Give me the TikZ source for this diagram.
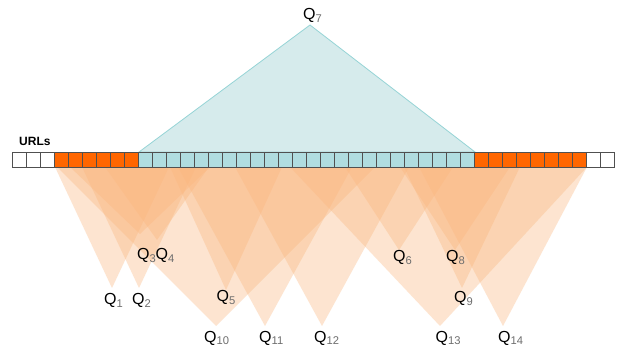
\documentclass[tikz,border=0pt]{standalone}
\usepackage{fontspec}
\setmainfont{Liberation Sans}
\definecolor{qorange}{RGB}{250,182,125}
\definecolor{cellorange}{RGB}{255,102,0}
\definecolor{cellcyan}{RGB}{176,221,224}
\definecolor{tricyan}{RGB}{214,235,236}
\definecolor{triedge}{RGB}{150,212,214}
\definecolor{cellline}{RGB}{80,80,80}
\definecolor{subgray}{RGB}{110,110,110}
\newcommand{\qlab}[1]{Q\textsubscript{\color{subgray}#1}}
\tikzset{
  qtri/.style={fill=qorange, fill opacity=0.36},
  cell/.style={draw=cellline, line width=0.7pt},
  qlabel/.style={anchor=base west, inner sep=0pt, font=\fontsize{16}{18}\selectfont},
}
\begin{document}
\begin{tikzpicture}[x=1pt,y=-1pt]
\useasboundingbox (0,0) rectangle (624,347);
\fill[white] (0,0) rectangle (624,347);
% query triangles (base left, base right, apex x, apex y)
\foreach \l/\r/\ax/\ay in {
  55/169/112/288, 82/196/139/288, 70/210/140/234, 105/209/157/240,
  57/375/216/326, 170/282/226/290, 178/352/265/326, 235/409/322/326,
  345/453/399/250, 400/510/455/250, 404/520/462/288,
  290/587/440/326, 419/587/503/326}
  \fill[qtri] (\l,167) -- (\r,167) -- (\ax,\ay) -- cycle;
% Q7 triangle
\filldraw[fill=tricyan, draw=triedge, line width=0.8pt] (139,152) -- (310,25) -- (475,152) -- cycle;
% URL cells
\foreach \i in {0,...,42}{
  \pgfmathsetmacro{\xx}{12+14*\i}
  \ifnum\i<3 \def\cc{white}\else
  \ifnum\i<9 \def\cc{cellorange}\else
  \ifnum\i<33 \def\cc{cellcyan}\else
  \ifnum\i<41 \def\cc{cellorange}\else \def\cc{white}\fi\fi\fi\fi
  \filldraw[cell, fill=\cc] (\xx,152) rectangle ++(14,15);
}
\node[anchor=base west, inner sep=0pt, font=\fontsize{12}{14}\selectfont\bfseries] (urls) at (19,146) {URLs};
% labels
\node[qlabel] (q7) at (303,20) {\qlab{7}};
\node[qlabel] (q1) at (104,305) {\qlab{1}};
\node[qlabel] (q2) at (132,305) {\qlab{2}};
\node[qlabel] (q3) at (137,260) {\qlab{3}};
\node[qlabel] (q4) at (155.5,260) {\qlab{4}};
\node[qlabel] (q5) at (216.5,302) {\qlab{5}};
\node[qlabel] (q6) at (393,262) {\qlab{6}};
\node[qlabel] (q8) at (446,262) {\qlab{8}};
\node[qlabel] (q9) at (454,303) {\qlab{9}};
\node[qlabel] (q10) at (204,342) {\qlab{10}};
\node[qlabel] (q11) at (259,342) {\qlab{11}};
\node[qlabel] (q12) at (314,342) {\qlab{12}};
\node[qlabel] (q13) at (435.5,342) {\qlab{13}};
\node[qlabel] (q14) at (498,342) {\qlab{14}};
\end{tikzpicture}
\end{document}
